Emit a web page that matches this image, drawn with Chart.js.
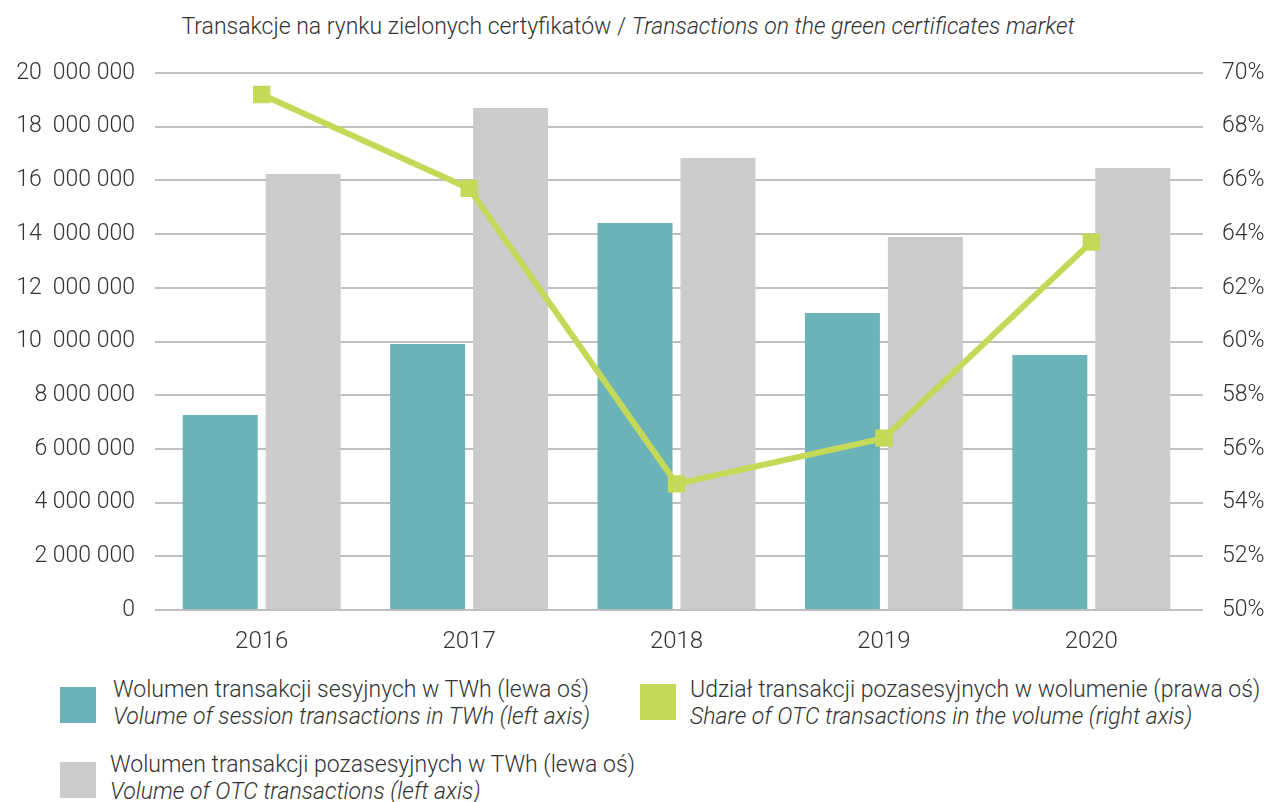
<!DOCTYPE html>
<html>
<head>
<meta charset="utf-8">
<script src="https://cdn.jsdelivr.net/npm/chart.js@4"></script>
<style>
  body { margin: 0; background: #fff; font-family: Roboto, "Noto Sans", sans-serif; font-weight: 300; color: #333; }
  #wrap { position: relative; width: 1270px; height: 802px; }
  #chartBox { position: absolute; left: 0; top: 0; width: 1270px; height: 660px; }
  .title { position: absolute; top: 13px; left: 0; width: 1256px; text-align: center; font-size: 23px; white-space: nowrap; }
  .leg { position: absolute; font-size: 23px; line-height: 27px; white-space: nowrap; }
  .sw { position: absolute; width: 36px; height: 36px; }
  i { font-style: italic; }
</style>
</head>
<body>
<div id="wrap">
  <div class="title">Transakcje na rynku zielonych certyfikatów / <i>Transactions on the green certificates market</i></div>
  <div id="chartBox"><canvas id="chart"></canvas></div>

  <div class="sw" style="left:60px; top:687px; background:#6bb3b8"></div>
  <div class="leg" style="left:113px; top:676px">Wolumen transakcji sesyjnych w TWh (lewa oś)<br><i>Volume of session transactions in TWh (left axis)</i></div>

  <div class="sw" style="left:640px; top:684px; background:#c4d957"></div>
  <div class="leg" style="left:690px; top:676px">Udział transakcji pozasesyjnych w wolumenie (prawa oś)<br><i>Share of OTC transactions in the volume (right axis)</i></div>

  <div class="sw" style="left:60px; top:762px; background:#cccccc"></div>
  <div class="leg" style="left:110px; top:751px">Wolumen transakcji pozasesyjnych w TWh (lewa oś)<br><i>Volume of OTC transactions (left axis)</i></div>
</div>

<script>
// ---------------------- DATA ------------------------
const years = ["2016", "2017", "2018", "2019", "2020"];
const sessionVolume = [7260000, 9910000, 14410000, 11060000, 9500000];
const otcVolume = [16240000, 18700000, 16830000, 13890000, 16460000];
const otcShare = [69.2, 65.7, 54.7, 56.4, 63.7];

const TEAL = "#6bb3b8";
const GREY = "#cccccc";
const GREEN = "#c4d957";
const GRID = "#bfbfbf";

// thousands split by spaces, wider gap after the millions part like the source
function fmtSpace(v) {
  const s = String(v).replace(/\B(?=(\d{3})+(?!\d))/g, " ");
  return v >= 10000000 ? s.replace(" ", "  ") : s;
}

// ---------------------- CHART ------------------------
const ctx = document.getElementById("chart").getContext("2d");
new Chart(ctx, {
  type: "bar",
  data: {
    labels: years,
    datasets: [
      {
        type: "line",
        label: "Udział transakcji pozasesyjnych w wolumenie (prawa oś)",
        data: otcShare,
        yAxisID: "yR",
        borderColor: GREEN,
        backgroundColor: GREEN,
        borderWidth: 6,
        pointStyle: "rect",
        pointRadius: 8,
        pointHoverRadius: 8,
        tension: 0,
        order: 0,
      },
      {
        label: "Wolumen transakcji sesyjnych w TWh (lewa oś)",
        data: sessionVolume,
        backgroundColor: TEAL,
        yAxisID: "y",
        order: 1,
        categoryPercentage: 0.8,
        barPercentage: 0.904,
      },
      {
        label: "Wolumen transakcji pozasesyjnych w TWh (lewa oś)",
        data: otcVolume,
        backgroundColor: GREY,
        yAxisID: "y",
        order: 1,
        categoryPercentage: 0.8,
        barPercentage: 0.904,
      },
    ],
  },
  options: {
    responsive: true,
    maintainAspectRatio: false,
    animation: false,
    layout: { padding: { top: 73, bottom: 0, left: 0, right: 0 } },
    plugins: {
      legend: { display: false },
      title: { display: false },
      tooltip: { enabled: false },
    },
    scales: {
      x: {
        grid: { display: false, drawTicks: false },
        border: { display: false },
        ticks: { color: "#333", padding: 18, font: { family: "Roboto", size: 24, weight: 300 } },
        afterFit: (s) => { s.height = 50; },
      },
      y: {
        position: "left",
        min: 0,
        max: 20000000,
        ticks: {
          stepSize: 2000000,
          color: "#333",
          padding: 20,
          font: { family: "Roboto", size: 23, weight: 300 },
          callback: (v) => fmtSpace(v),
        },
        grid: { color: GRID, lineWidth: 2, tickLength: 3 },
        border: { display: false },
        afterFit: (s) => { s.width = 158; },
      },
      yR: {
        position: "right",
        min: 50,
        max: 70,
        ticks: {
          stepSize: 2,
          color: "#333",
          padding: 19,
          font: { family: "Roboto", size: 23, weight: 300 },
          callback: (v) => v + "%",
        },
        grid: { drawOnChartArea: false, color: GRID, lineWidth: 2, tickLength: 8 },
        border: { display: false },
        afterFit: (s) => { s.width = 75; },
      },
    },
  },
});
</script>
</body>
</html>
